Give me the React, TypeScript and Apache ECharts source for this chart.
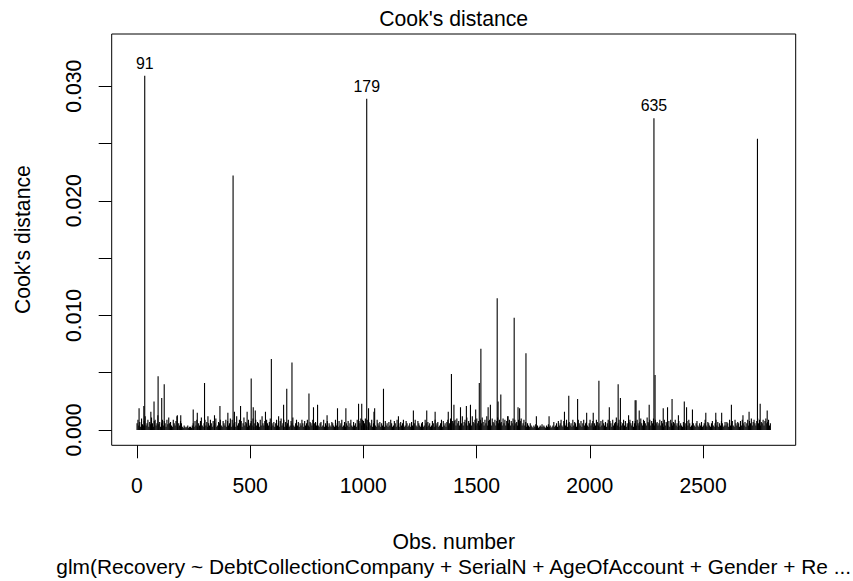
import React, { useEffect, useRef } from "react";
import * as echarts from "echarts";

// Number of observations in the fitted model
const nObs = 2797;

// Background Cook's distances, sampled every 4th observation (obs = 1 + 4k), in units of 1e-4
const baseD = [
  6,9,4,7,3,10,5,4,8,12,4,6,9,3,7,5,11,6,3,8,9,4,6,13,5,7,3,6,9,4,8,6,3,9,5,11,6,7,4,3,9,6,4,8,12,3,6,4,8,6,
  3,2,4,3,2,3,4,2,3,3,2,4,6,3,8,4,9,3,6,4,8,11,4,3,6,9,4,7,3,6,4,9,6,3,8,4,6,10,3,4,7,6,9,4,3,8,6,4,9,3,
  8,4,6,10,3,9,4,6,7,3,12,4,6,9,4,8,3,6,11,4,7,6,3,9,4,6,8,4,10,3,6,9,4,7,6,3,9,4,12,6,4,8,3,9,6,4,7,10,3,6,
  4,7,3,6,9,4,6,3,8,10,4,6,9,3,7,4,6,9,3,4,8,6,11,4,3,6,9,4,7,3,6,4,9,6,3,8,4,6,9,4,3,7,6,4,9,3,6,7,4,6,
  4,3,6,7,3,4,9,3,6,4,8,3,6,4,3,7,6,4,3,9,4,6,3,8,4,6,9,3,4,7,3,6,4,8,3,6,9,4,3,7,4,6,3,9,4,8,6,10,4,9,
  8,6,10,4,9,3,7,6,4,9,3,6,8,4,3,9,6,4,7,3,6,4,9,3,8,4,6,3,7,4,9,6,3,4,8,6,3,9,4,6,3,7,4,6,9,3,4,8,6,3,
  4,6,3,7,4,3,6,9,4,3,8,6,4,3,6,7,3,4,9,6,3,7,4,6,3,4,8,6,3,9,4,6,7,3,4,6,9,3,8,4,6,3,7,9,4,6,10,4,8,6,
  8,9,4,10,6,8,4,9,6,12,4,7,9,6,11,4,8,6,9,4,12,7,6,9,4,10,6,8,4,9,6,11,7,4,9,6,12,4,8,9,6,4,10,7,6,9,4,8,11,6,
  9,6,7,4,10,6,9,4,8,12,6,9,4,8,6,10,4,9,6,7,4,9,6,8,10,4,6,9,4,7,3,6,4,3,6,4,3,2,4,3,5,3,4,2,3,4,3,5,3,4,
  3,2,4,3,5,3,4,2,3,4,7,3,4,6,3,8,4,6,9,4,3,8,6,4,9,3,6,7,4,6,3,9,4,7,6,3,4,9,6,4,8,3,6,9,4,6,7,4,3,6,
  9,4,6,8,3,6,4,9,7,4,6,3,8,4,9,6,4,7,3,6,9,4,8,6,3,9,4,6,7,11,4,6,9,3,7,4,6,9,4,8,3,6,4,7,9,6,4,8,3,6,
  8,4,9,6,4,7,10,6,4,9,8,6,4,11,7,6,9,4,8,6,10,4,9,6,7,4,6,9,4,8,6,3,9,4,7,6,4,8,3,9,6,4,7,6,9,4,6,3,8,4,
  6,4,3,7,4,6,3,8,4,9,6,3,4,7,6,4,3,6,8,4,3,6,4,7,3,4,6,9,4,3,7,6,4,3,6,8,4,3,6,9,4,7,3,6,4,8,6,3,4,7,
  4,7,6,3,9,4,6,8,4,3,9,6,4,7,6,3,8,4,9,6,4,7,3,6,9,4,8,6,10,4,7,9,6,4,8,10,6,9,4,7,6,9,4,8,10,6,7,9,4,6,
];

// Observations that stand out above the background
const spikeObs = [
  35, 425, 1015, 2283, 2740,
  1591, 1666, 1519, 1718, 1389, 594, 685, 94, 121, 299, 505, 662, 760, 1089, 1512,
  1607, 1907, 1946, 2040, 2125, 2135, 2200, 2288, 2363, 2417, 2625, 2752,
  10, 31, 62, 76, 110, 179, 194, 249, 267, 314, 343, 367, 402, 431, 458, 487, 514, 523,
  568, 626, 648, 780, 798, 840, 886, 923, 979, 993, 1023, 1047, 1050, 1155, 1221, 1280,
  1317, 1375, 1400, 1429, 1455, 1473, 1496, 1551, 1561, 1595, 1639, 1683, 1690, 1764,
  1820, 1888, 1986, 2015, 2086, 2171, 2204, 2218, 2262, 2324, 2343, 2391, 2427, 2453,
  2512, 2556, 2582, 2676, 2703, 2783,
];
const spikeD = [
  0.0309, 0.0222, 0.0289, 0.0272, 0.0254,
  0.0115, 0.0098, 0.0071, 0.0067, 0.0049, 0.0062, 0.0059, 0.0047, 0.0040, 0.0041, 0.0045, 0.0036, 0.0032, 0.0036, 0.0041,
  0.0031, 0.0030, 0.0027, 0.0043, 0.0040, 0.0028, 0.0026, 0.0048, 0.0027, 0.0025, 0.0022, 0.0023,
  0.0019, 0.0021, 0.0016, 0.0025, 0.0028, 0.0013, 0.0013, 0.0018, 0.0015, 0.0012, 0.0013, 0.0021, 0.0015, 0.0016, 0.0021, 0.0016, 0.0020, 0.0017,
  0.0016, 0.0012, 0.0022, 0.0020, 0.0022, 0.0013, 0.0019, 0.0019, 0.0023, 0.0023, 0.0019, 0.0016, 0.0019, 0.0012, 0.0017, 0.0017,
  0.0016, 0.0016, 0.0022, 0.0020, 0.0021, 0.0022, 0.0018, 0.0020, 0.0022, 0.0025, 0.0012, 0.0020, 0.0019, 0.0012,
  0.0012, 0.0016, 0.0015, 0.0015, 0.0020, 0.0013, 0.0026, 0.0017, 0.0022, 0.0019, 0.0020, 0.0013, 0.0020, 0.0018,
  0.0015, 0.0015, 0.0015, 0.0013, 0.0016, 0.0017,
];

// The three most influential observations and their row names
const labelledObs = [35, 1015, 2283];
const labelledNames = ["91", "179", "635"];

const xTicks = [0, 500, 1000, 1500, 2000, 2500];
const yTicks = [0, 0.005, 0.01, 0.015, 0.02, 0.025, 0.03];
const yTickLabels = [0, 0.01, 0.02, 0.03];

const mainTitle = "Cook's distance";
const xTitle = "Obs. number";
const yTitle = "Cook's distance";
const subCaption =
  "glm(Recovery ~ DebtCollectionCompany + SerialN + AgeOfAccount + Gender + Re ...";

const FONT = '"Liberation Sans", Arial, Helvetica, sans-serif';
const FS = 21.2;
const FS_ID = 15.9;

export default function App() {
  const ref = useRef<HTMLDivElement>(null);

  useEffect(() => {
    if (!ref.current) return;
    const chart = echarts.init(ref.current, undefined, { renderer: "svg" });

    const points: number[][] = [];
    baseD.forEach((d, k) => {
      const obs = 1 + 4 * k;
      if (obs <= nObs) points.push([obs, d * 1e-4]);
    });
    spikeObs.forEach((obs, i) => points.push([obs, spikeD[i]]));

    const labelPoints = labelledObs.map((obs) => [
      obs,
      spikeD[spikeObs.indexOf(obs)],
    ]);

    // R-style axis ranges: 4% padding on both ends
    const xMin = 1 - 0.04 * (nObs - 1);
    const xMax = nObs + 0.04 * (nObs - 1);
    const yTop = Math.max(...spikeD) * 1.075;
    const yMin = -0.04 * yTop;
    const yMax = yTop * 1.04;

    const gridLeft = 111.7;
    const gridTop = 34;
    const gridW = 684;
    const gridH = 411.3;
    const cx = gridLeft + gridW / 2;

    const textStyle = (text: string, size = FS) => ({
      text,
      textAlign: "center",
      textVerticalAlign: "middle",
      fontSize: size,
      fontFamily: FONT,
      fill: "#000",
    });

    chart.setOption({
      animation: false,
      backgroundColor: "#ffffff",
      textStyle: { fontFamily: FONT },
      grid: {
        left: gridLeft,
        top: gridTop,
        width: gridW,
        height: gridH,
        show: true,
        borderColor: "#000",
        borderWidth: 1,
        backgroundColor: "transparent",
      },
      xAxis: {
        type: "value",
        min: xMin,
        max: xMax,
        splitLine: { show: false },
        axisLine: { show: false, onZero: false },
        axisTick: {
          show: true,
          length: 13,
          customValues: xTicks,
          lineStyle: { color: "#000", width: 1 },
        },
        axisLabel: {
          customValues: xTicks,
          margin: 30,
          fontSize: FS,
          fontFamily: FONT,
          color: "#000",
          formatter: (v: number) => String(v),
        },
      },
      yAxis: {
        type: "value",
        min: yMin,
        max: yMax,
        splitLine: { show: false },
        axisLine: { show: false, onZero: false },
        axisTick: {
          show: true,
          length: 13,
          customValues: yTicks,
          lineStyle: { color: "#000", width: 1 },
        },
        axisLabel: {
          customValues: yTickLabels,
          rotate: 90,
          margin: 28,
          fontSize: FS,
          fontFamily: FONT,
          color: "#000",
          formatter: (v: number) => v.toFixed(3),
        },
      },
      series: [
        {
          type: "custom",
          clip: true,
          data: points,
          renderItem: (_params: any, api: any) => {
            const x = api.value(0);
            const v = api.value(1);
            const p0 = api.coord([x, 0]);
            const p1 = api.coord([x, v]);
            return {
              type: "line",
              shape: { x1: p0[0], y1: p0[1], x2: p1[0], y2: p1[1] },
              style: { stroke: "#000", lineWidth: 1.1 },
            };
          },
        },
        {
          type: "custom",
          data: labelPoints,
          renderItem: (params: any, api: any) => {
            const p = api.coord([api.value(0), api.value(1)]);
            return {
              type: "text",
              x: p[0],
              y: p[1] - 12.5,
              style: textStyle(labelledNames[params.dataIndex], FS_ID),
            };
          },
        },
      ],
      graphic: [
        { type: "text", x: cx, y: 18, style: textStyle(mainTitle) },
        { type: "text", x: cx, y: 541, style: textStyle(xTitle) },
        { type: "text", x: cx, y: 566, style: textStyle(subCaption, 20.9) },
        {
          type: "text",
          x: 22,
          y: gridTop + gridH / 2,
          rotation: Math.PI / 2,
          style: textStyle(yTitle),
        },
      ],
    });

    return () => chart.dispose();
  }, []);

  return (
    <div
      ref={ref}
      style={{
        position: "fixed",
        left: 0,
        top: 0,
        width: 853,
        height: 581,
        background: "#fff",
      }}
    />
  );
}
